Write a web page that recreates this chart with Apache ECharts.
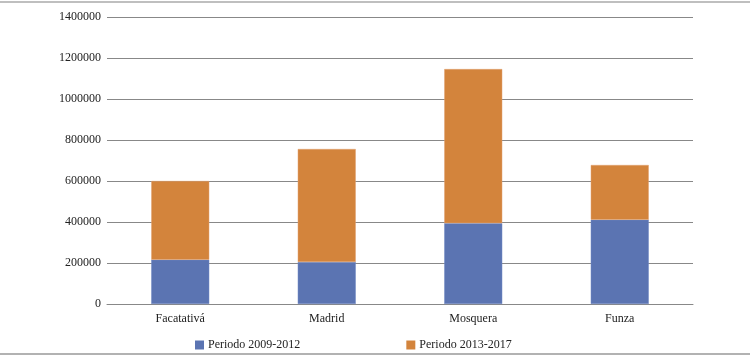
<!DOCTYPE html>
<html><head><meta charset="utf-8">
<script src="https://cdn.jsdelivr.net/npm/echarts@6/dist/echarts.min.js"></script>
<style>html,body{margin:0;padding:0;background:#fff}#c{width:750px;height:359px}</style>
</head><body><div id="c"></div>
<script>
var categories = ['Facatativá', 'Madrid', 'Mosquera', 'Funza'];
var periodo2009 = [216000, 205000, 394000, 411000];
var periodo2013 = [384000, 551000, 752000, 267000];
var seriesNames = ['Periodo 2009-2012', 'Periodo 2013-2017'];

var font = '"Liberation Serif", serif';
var chart = echarts.init(document.getElementById('c'));
chart.setOption({
  animation: false,
  backgroundColor: '#fff',
  textStyle: {fontFamily: font},
  grid: {left: 107, right: 57, top: 17, bottom: 55},
  legend: {
    data: seriesNames,
    left: 190, top: 334,
    itemWidth: 9, itemHeight: 9, itemGap: 106,
    itemStyle: {borderWidth: 0},
    textStyle: {fontFamily: font, fontSize: 12, color: '#222', padding: [0, 0, 0, -1]},
    icon: 'rect'
  },
  xAxis: {
    type: 'category', data: categories,
    axisLine: {lineStyle: {color: '#888'}},
    axisTick: {show: false},
    axisLabel: {fontFamily: font, fontSize: 12, color: '#222', margin: 9}
  },
  yAxis: {
    type: 'value', min: 0, max: 1400000, interval: 200000,
    axisLine: {show: false}, axisTick: {show: false},
    splitLine: {lineStyle: {color: '#888'}},
    axisLabel: {fontFamily: font, fontSize: 12, color: '#222', margin: 6,
      formatter: function (v) { return String(v); }}
  },
  series: [
    {name: seriesNames[0], type: 'bar', stack: 't', data: periodo2009, barWidth: 58,
     itemStyle: {color: '#5B74B2', borderColor: '#7088c4', borderWidth: 0.5}},
    {name: seriesNames[1], type: 'bar', stack: 't', data: periodo2013, barWidth: 58,
     itemStyle: {color: '#D3843C', borderColor: '#e0a070', borderWidth: 0.5}}
  ],
  graphic: [
    {type: 'line', shape: {x1: 0, y1: 2, x2: 750, y2: 2}, style: {stroke: '#aaa', lineWidth: 1.5}},
    {type: 'line', shape: {x1: 0, y1: 354, x2: 750, y2: 354}, style: {stroke: '#999', lineWidth: 1.5}}
  ]
});
</script></body></html>
